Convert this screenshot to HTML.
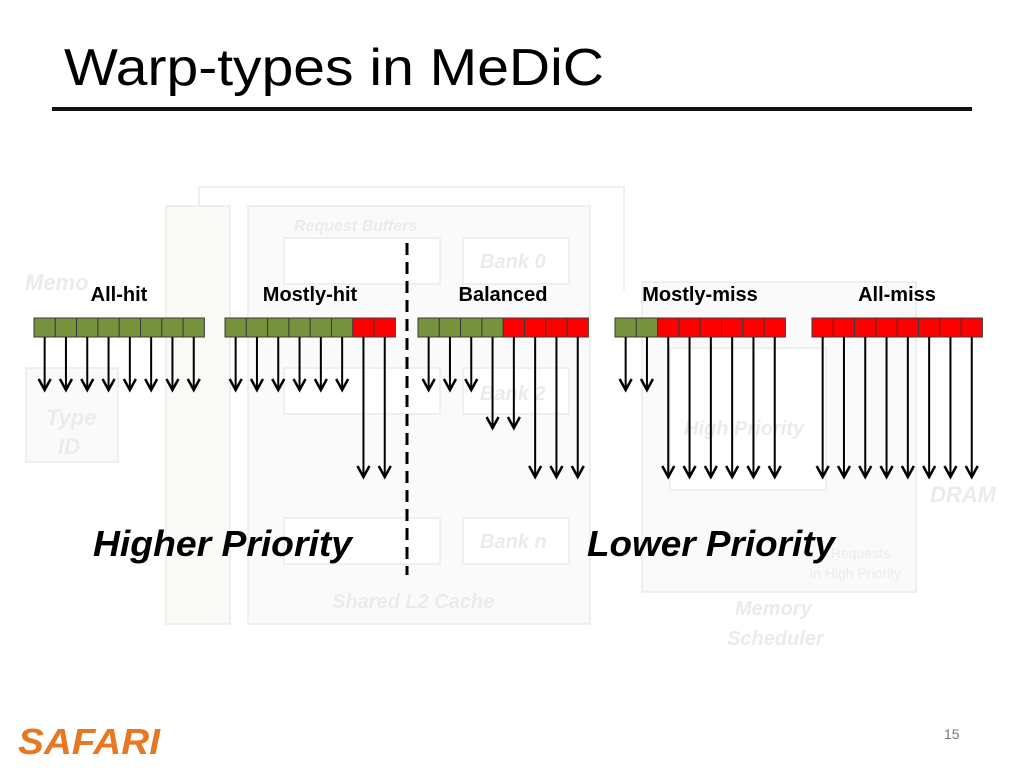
<!DOCTYPE html>
<html><head><meta charset="utf-8"><style>
body{margin:0;width:1024px;height:768px;background:#fff;overflow:hidden;font-family:"Liberation Sans",sans-serif;}
</style></head><body>
<svg width="1024" height="768" viewBox="0 0 1024 768" xmlns="http://www.w3.org/2000/svg">
<text x="64" y="85" font-family="Liberation Sans, sans-serif" font-size="52" textLength="540" lengthAdjust="spacingAndGlyphs" fill="#000">Warp-types in MeDiC</text>
<rect x="52" y="107" width="920" height="4" fill="#111"/>
<g id="bg" opacity="0.9" fill="none" stroke="#eee" stroke-width="2">
 <rect x="166" y="206" width="64" height="418" fill="#f9faf4"/>
 <rect x="248" y="206" width="342" height="418" fill="#fafafa"/>
 <polyline points="199,206 199,187 624,187 624,290"/>
 <rect x="26" y="368" width="92" height="94" fill="#fafafa"/>
 <rect x="642" y="282" width="274" height="310" fill="#fafafa"/>
 <rect x="284" y="238" width="156" height="46" fill="#fff"/>
 <rect x="284" y="368" width="156" height="46" fill="#fff"/>
 <rect x="284" y="518" width="156" height="46" fill="#fff"/>
 <rect x="463" y="238" width="106" height="46" fill="#fff"/>
 <rect x="463" y="368" width="106" height="46" fill="#fff"/>
 <rect x="463" y="518" width="106" height="46" fill="#fff"/>
 <rect x="670" y="348" width="156" height="142" fill="#fff"/>
</g>
<g font-family="Liberation Sans, sans-serif" font-style="italic" font-weight="bold" fill="#ebebeb">
 <text x="294" y="231" font-size="16">Request Buffers</text>
 <text x="480" y="268" font-size="20">Bank 0</text>
 <text x="480" y="400" font-size="20">Bank 2</text>
 <text x="480" y="548" font-size="20">Bank n</text>
 <text x="332" y="608" font-size="20">Shared L2 Cache</text>
 <text x="25" y="290" font-size="22">Memo</text>
 <text x="46" y="425" font-size="22">Type</text>
 <text x="58" y="454" font-size="22">ID</text>
 <text x="684" y="435" font-size="20">High Priority</text>
 <text x="930" y="502" font-size="22">DRAM</text>
 <text x="735" y="615" font-size="20">Memory</text>
 <text x="727" y="645" font-size="20">Scheduler</text>
 <text x="820" y="558" font-size="14" font-style="normal" font-weight="normal">y Requests</text>
 <text x="810" y="578" font-size="14" font-style="normal" font-weight="normal">in High Priority</text>
</g>
<line x1="407" y1="243" x2="407" y2="575" stroke="#000" stroke-width="3" stroke-dasharray="12,7"/>
<g id="warps"></g>
<text x="93" y="556" font-family="Liberation Sans, sans-serif" font-style="italic" font-weight="bold" font-size="36" textLength="259" lengthAdjust="spacingAndGlyphs">Higher Priority</text>
<text x="587" y="556" font-family="Liberation Sans, sans-serif" font-style="italic" font-weight="bold" font-size="36" textLength="248" lengthAdjust="spacingAndGlyphs">Lower Priority</text>
<text x="18" y="754" font-family="Liberation Sans, sans-serif" font-style="italic" font-weight="bold" font-size="36" textLength="142" lengthAdjust="spacingAndGlyphs" fill="#e87722">SAFARI</text>
<text x="944" y="739" font-family="Liberation Sans, sans-serif" font-size="14" fill="#777">15</text>
</svg>
<script>
const groupNames=["All-hit","Mostly-hit","Balanced","Mostly-miss","All-miss"];
const groupX=[34,225,418,615,812];
const hitCounts=[8,6,4,2,0];
const arrowLevels=[[0,0,0,0,0,0,0,0],[0,0,0,0,0,0,2,2],[0,0,0,1,1,2,2,2],[0,0,2,2,2,2,2,2],[2,2,2,2,2,2,2,2]];
const levelY=[390,428,477];
const NS="http://www.w3.org/2000/svg";
const g=document.getElementById('warps');
const cw=21.3,by=318,bh=19;
function mk(t,a){const e=document.createElementNS(NS,t);for(const k in a)e.setAttribute(k,a[k]);g.appendChild(e);return e;}
groupNames.forEach((name,i)=>{
 const x0=groupX[i];
 const lab=mk('text',{x:x0+85,y:301,'text-anchor':'middle','font-family':'Liberation Sans, sans-serif','font-weight':'bold','font-size':'20'});
 lab.textContent=name;
 
 
 for(let j=0;j<8;j++){
  const x=x0+j*cw;
  const r=mk('rect',{x:x,y:by,width:cw,height:bh,fill:j<hitCounts[i]?'#76923c':'#ff0000',stroke:'#3a3a3a','stroke-width':1});
  
  
  const cx=x+cw/2, ty=levelY[arrowLevels[i][j]];
  const l=mk('line',{x1:cx,y1:by+bh,x2:cx,y2:ty-2,stroke:'#000','stroke-width':2});
  
  
  const h=mk('polyline',{points:`${cx-6},${ty-11} ${cx},${ty} ${cx+6},${ty-11}`,fill:'none',stroke:'#000','stroke-width':2.5});
  
  
 }
});
</script>
</body></html>
